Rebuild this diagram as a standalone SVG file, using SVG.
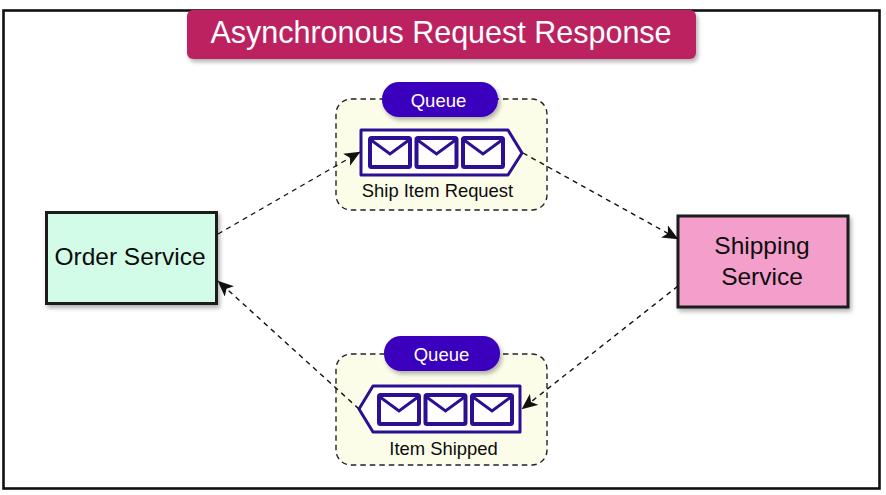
<svg xmlns="http://www.w3.org/2000/svg" width="886" height="495" viewBox="0 0 886 495">
<defs>
<style>
text{font-family:"Liberation Sans",Arial,sans-serif;text-anchor:middle;fill:#0c0c0c}
text.w{fill:#fff}
.box{stroke:#1a1a1a;stroke-width:3;filter:url(#sh)}
.group{fill:#fbfde9;stroke:#222;stroke-width:1.4;stroke-dasharray:5.500 4}
.pill{fill:#3a00bd;filter:url(#sh)}
.q{fill:#fff;stroke:#2c0f92;stroke-width:3;stroke-linejoin:round}
.env{fill:#fff;stroke:#2c0f92;stroke-width:4;stroke-linejoin:round}
.flap{fill:none;stroke:#2c0f92;stroke-width:3}
.c{fill:none;stroke:#111;stroke-width:1.4;stroke-dasharray:5 4.500}
</style>
<filter id="sh" x="-10%" y="-15%" width="125%" height="140%"><feDropShadow dx="2" dy="3" stdDeviation="2" flood-color="#000" flood-opacity=".3"/></filter>
<marker id="arr" viewBox="0 0 16 14" refX="15.500" refY="7" markerWidth="16" markerHeight="14" markerUnits="userSpaceOnUse" orient="auto"><path d="M0 0 L16 7 L0 14 L4 7Z" fill="#111"/></marker>
<symbol id="m" overflow="visible"><rect class="env" x="0" y="0" width="40" height="29" rx="1.500"/><path class="flap" d="M1 2 L20 16 L39 2"/></symbol>
</defs>
<rect x="0" y="0" width="886" height="495" fill="#fff"/>
<rect x="3.500" y="10.500" width="876" height="478" fill="#fff" stroke="#111" stroke-width="2.600"/>
<g id="title"><rect x="187" y="10" width="509" height="49" rx="6" fill="#bd2361" filter="url(#sh)"/><text class="w" x="441" y="43" font-size="30.500">Asynchronous Request Response</text></g>
<g id="order-service"><rect class="box" x="46.500" y="212.500" width="170" height="91" fill="#d3fce8"/><text x="130" y="265" font-size="24.500">Order Service</text></g>
<g id="shipping-service"><rect class="box" x="678" y="216" width="170" height="91" fill="#f49fcb"/><text x="762" y="254" font-size="24.500">Shipping</text><text x="762" y="285" font-size="24.500">Service</text></g>
<g id="queue-top">
<rect class="group" x="336" y="99" width="211" height="111" rx="15"/>
<rect class="pill" x="382" y="82" width="116" height="35" rx="17"/><text class="w" x="438.500" y="107" font-size="18.500">Queue</text>
<path class="q" d="M361 130 H508 L522 153 L508 175 H361Z"/>
<use href="#m" x="370" y="138"/><use href="#m" x="416.500" y="138"/><use href="#m" x="463" y="138"/>
<text x="437.500" y="197" font-size="18.400">Ship Item Request</text>
</g>
<g id="queue-bottom">
<rect class="group" x="336" y="354" width="211" height="111" rx="15"/>
<rect class="pill" x="384" y="336" width="116" height="35" rx="17"/><text class="w" x="441.500" y="361" font-size="18.500">Queue</text>
<path class="q" d="M520 386 H373 L359 409 L373 432 H520Z"/>
<use href="#m" x="379" y="395"/><use href="#m" x="425.500" y="395"/><use href="#m" x="472" y="395"/>
<text x="443.500" y="455" font-size="18.400">Item Shipped</text>
</g>
<g id="connectors">
<path class="c" marker-end="url(#arr)" d="M218 234 L360 152"/>
<path class="c" marker-end="url(#arr)" d="M523 153 L678 239"/>
<path class="c" marker-end="url(#arr)" d="M678 286 L522 409"/>
<path class="c" marker-end="url(#arr)" d="M359 409 L218 281"/>
</g>
</svg>
